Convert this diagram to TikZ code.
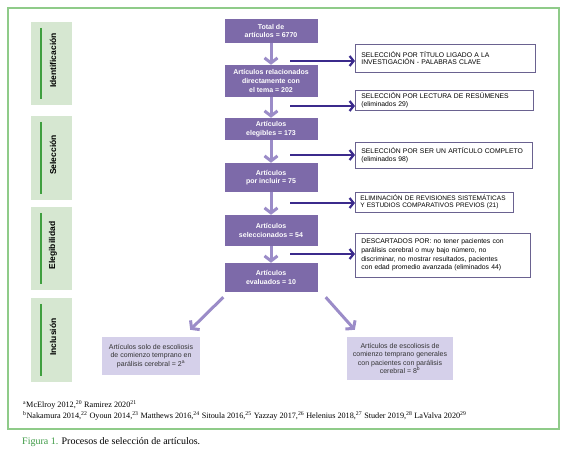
\documentclass[tikz,border=0pt]{standalone}
\usepackage{fontspec}
\setmainfont{Liberation Serif}
\setsansfont{Liberation Sans}
\usetikzlibrary{positioning, arrows.meta}

\definecolor{boxpurple}{HTML}{7D6AA9}
\definecolor{arrowlight}{HTML}{9B8CC8}
\definecolor{arrowdark}{HTML}{3B2A8C}
\definecolor{rboxline}{HTML}{6A6290}
\definecolor{lavender}{HTML}{D5D0EA}
\definecolor{stagefill}{HTML}{D6E7D1}
\definecolor{stageline}{HTML}{3F9F3F}
\definecolor{framegreen}{HTML}{8FCB89}
\definecolor{captiongreen}{HTML}{3D9A45}

\begin{document}
\begin{tikzpicture}[x=1pt,y=-1pt,node distance=49pt,on grid,
    mainbox/.style={fill=boxpurple, text=white, minimum width=93pt, inner sep=0pt,
        align=center, font=\sffamily\bfseries\fontsize{7}{8.6}\selectfont},
    rbox/.style={draw=rboxline, line width=0.8pt, fill=white, anchor=west, inner xsep=6pt,
        inner ysep=2pt, text width=#1, align=left, font=\sffamily\fontsize{6.8}{7.6}\selectfont},
    endbox/.style={fill=lavender, text=black!80, inner sep=0pt, align=center,
        font=\sffamily\fontsize{7}{8.2}\selectfont},
    stage/.style={fill=stagefill, minimum width=41pt, inner sep=0pt},
    stagetext/.style={rotate=90, font=\sffamily\bfseries\fontsize{8.5}{9}\selectfont},
    stagebar/.style={draw=stageline, line width=1.4pt},
    down/.style={draw=arrowlight, line width=3pt, -{Straight Barb[length=5pt,width=13pt]}},
    side/.style={draw=arrowdark, line width=2.2pt, -{Straight Barb[length=4pt,width=10pt]}},
    note/.style={anchor=base west, inner sep=0pt, font=\fontsize{8.2}{9}\selectfont}]

    \useasboundingbox (0,0) rectangle (567,456);
    \draw[framegreen, line width=1.2pt] (8,8) rectangle (559,429);

    % etapas
    \node[stage, minimum height=83pt] (ident) at (51.5,63.5) {};
    \node[stage, minimum height=84pt] (selec) at (51.5,158) {};
    \node[stage, minimum height=83pt] (elegi) at (51.5,248.5) {};
    \node[stage, minimum height=84pt] (inclu) at (51.5,340) {};
    \node[stagetext] at ([xshift=1.5pt,yshift=3pt]ident.center) {Identificación};
    \node[stagetext] at ([xshift=1.5pt,yshift=3pt]selec.center) {Selección};
    \node[stagetext] at ([xshift=1.5pt,yshift=3pt]elegi.center) {Elegibilidad};
    \node[stagetext] at ([xshift=1.5pt,yshift=3pt]inclu.center) {Inclusión};
    \draw[stagebar] ([xshift=-10.5pt,yshift=-6pt]ident.north) -- ([xshift=-10.5pt,yshift=6pt]ident.south);
    \draw[stagebar] ([xshift=-10.5pt,yshift=-6pt]selec.north) -- ([xshift=-10.5pt,yshift=6pt]selec.south);
    \draw[stagebar] ([xshift=-10.5pt,yshift=-6pt]elegi.north) -- ([xshift=-10.5pt,yshift=6pt]elegi.south);
    \draw[stagebar] ([xshift=-10.5pt,yshift=-6pt]inclu.north) -- ([xshift=-10.5pt,yshift=6pt]inclu.south);

    % columna central
    \node[mainbox, minimum height=24pt] (total) at (271,31) {Total de\\artículos = 6770};
    \node[mainbox, minimum height=32pt, below=50pt of total] (relac) {Artículos relacionados\\directamente con\\el tema = 202};
    \node[mainbox, minimum height=22pt, below=48pt of relac] (elegib) {Artículos\\elegibles = 173};
    \node[mainbox, minimum height=29pt, below=48.5pt of elegib] (porinc) {Artículos\\por incluir = 75};
    \node[mainbox, minimum height=31pt, below=53pt of porinc] (selecc) {Artículos\\seleccionados = 54};
    \node[mainbox, minimum height=29pt, below=47pt of selecc] (evalu) {Artículos\\evaluados = 10};

    % criterios
    \node[rbox=168pt, minimum height=28pt] (titulo) at (355,58) {SELECCIÓN POR TÍTULO LIGADO A LA\\INVESTIGACIÓN - PALABRAS CLAVE};
    \node[rbox=166pt, minimum height=20pt] (resum) at (355,100.5) {SELECCIÓN POR LECTURA DE RESÚMENES\\(eliminados 29)};
    \node[rbox=165pt, minimum height=26pt] (compl) at (355,155) {SELECCIÓN POR SER UN ARTÍCULO COMPLETO\\(eliminados 98)};
    \node[rbox=148pt, inner xsep=5pt, minimum height=20pt, font=\sffamily\fontsize{6.5}{7.6}\selectfont] (revis) at (355,202) {ELIMINACIÓN DE REVISIONES SISTEMÁTICAS\\Y ESTUDIOS COMPARATIVOS PREVIOS (21)};
    \node[rbox=163pt, minimum height=44pt, font=\sffamily\fontsize{6.8}{8.6}\selectfont] (descar) at (355,255) {DESCARTADOS POR: no tener pacientes con\\parálisis cerebral o muy bajo número, no\\discriminar, no mostrar resultados, pacientes\\con edad promedio avanzada (eliminados 44)};

    % resultados
    \node[endbox, minimum width=98pt, minimum height=38pt] (solo) at (151,356) {Artículos solo de escoliosis\\de comienzo temprano en\\parálisis cerebral = 2\textsuperscript{a}};
    \node[endbox, minimum width=106pt, minimum height=43pt] (gener) at (400,358.5) {Artículos de escoliosis de\\comienzo temprano generales\\con pacientes con parálisis\\cerebral = 8\textsuperscript{b}};

    \path[down]
        (total) edge (relac)
        (relac) edge (elegib)
        (elegib) edge (porinc)
        (porinc) edge (selecc)
        (selecc) edge (evalu);
    \draw[down] ([shift={(-1pt,-5pt)}]evalu.south west) -- ([shift={(-10pt,7pt)}]solo.north east);
    \draw[down] ([shift={(8pt,-5pt)}]evalu.south east) -- ([shift={(8pt,7pt)}]gener.north west);

    \coordinate (s1) at (290,61);
    \coordinate (s2) at (290,106);
    \coordinate (s3) at (290,155);
    \coordinate (s4) at (290,203);
    \coordinate (s5) at (290,254);
    \draw[side] (s1) -- (s1 -| titulo.west);
    \draw[side] (s2) -- (s2 -| resum.west);
    \draw[side] (s3) -- (s3 -| compl.west);
    \draw[side] (s4) -- (s4 -| revis.west);
    \draw[side] (s5) -- (s5 -| descar.west);

    % notas y pie
    \node[note] (notea) at (23,407) {\textsuperscript{a}McElroy 2012,\textsuperscript{20} Ramirez 2020\textsuperscript{21}};
    \node[note] (noteb) at (23,418) {\textsuperscript{b}Nakamura 2014,\textsuperscript{22} Oyoun 2014,\textsuperscript{23} Matthews 2016,\textsuperscript{24} Sitoula 2016,\textsuperscript{25} Yazzay 2017,\textsuperscript{26} Helenius 2018,\textsuperscript{27} Studer 2019,\textsuperscript{28} LaValva 2020\textsuperscript{29}};
    \node[note, font=\fontsize{10}{12}\selectfont] (caption) at (22,444) {\textcolor{captiongreen}{Figura 1.} Procesos de selección de artículos.};
\end{tikzpicture}
\end{document}
